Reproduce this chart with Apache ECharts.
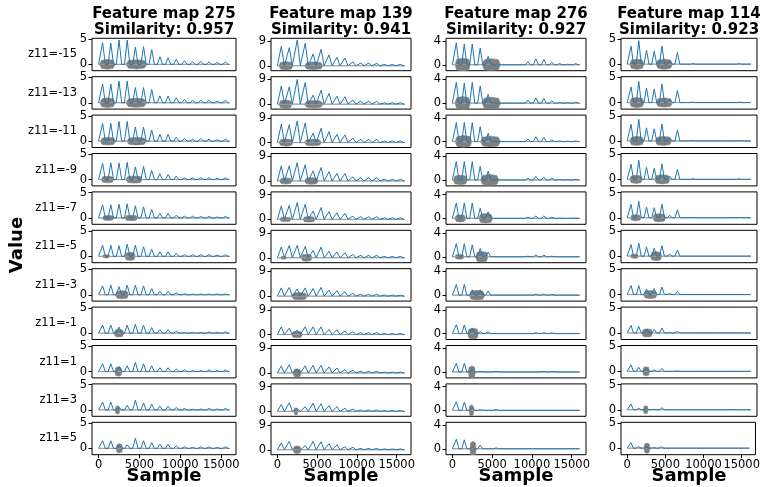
<!DOCTYPE html>
<html>
<head>
<meta charset="utf-8">
<script src="https://cdn.jsdelivr.net/npm/echarts@6/dist/echarts.min.js"></script>
<style>html,body{margin:0;padding:0;background:#fff}#c{width:763px;height:487px}</style>
</head>
<body>
<div id="c"></div>
<script>
// ---------------- data ----------------
const zValues = [-15, -13, -11, -9, -7, -5, -3, -1, 1, 3, 5];
const featureMaps = [275, 139, 276, 114];
const similarities = ['0.957', '0.941', '0.927', '0.923'];
const yTickMax = [5, 9, 4, 5];
const xTicks = [0, 5000, 10000, 15000];
const signalLength = 16000;
const peakSamples = [500, 1500, 2500, 3500, 4500, 5500, 6500, 7500, 8500, 9500, 10500, 11500, 12500, 13500, 14500, 15500];

// blue line: peak height at each peak sample, one row per z11 value
const peaks275 = [
  [4.3,4.2,4.8,4.8,3.4,3.5,2.9,1.5,1.3,1.0,0.7,0.5,0.6,0.5,0.4,0.5],
  [3.7,3.7,4.3,4.3,3.0,3.0,2.6,1.35,1.35,1.0,0.7,0.5,0.55,0.5,0.35,0.5],
  [3.5,3.5,3.9,3.9,2.8,2.8,2.2,1.35,1.35,0.8,0.55,0.4,0.55,0.4,0.3,0.4],
  [3.2,3.3,3.3,3.4,2.5,2.6,1.8,1.15,1.0,0.7,0.35,0.35,0.35,0.35,0.3,0.35],
  [2.6,2.6,2.7,2.8,2.4,2.2,1.7,0.9,0.9,0.55,0.35,0.35,0.3,0.3,0.2,0.3],
  [2.2,2.2,2.1,2.4,2.2,1.9,1.4,0.9,0.9,0.6,0.35,0.35,0.35,0.35,0.25,0.35],
  [1.75,1.9,1.6,1.9,1.9,1.75,1.2,0.7,0.7,0.4,0.2,0.15,0.15,0.15,0.15,0.15],
  [1.6,1.6,1.2,1.6,1.75,1.6,1.1,0.7,0.7,0.4,0.15,0.15,0.15,0.25,0.15,0.25],
  [1.55,1.55,1.0,1.15,1.8,1.55,1.15,0.75,0.75,0.5,0.35,0.2,0.2,0.35,0.2,0.35],
  [1.55,1.55,0.5,0.9,1.95,1.4,1.15,0.75,0.75,0.5,0.3,0.15,0.2,0.3,0.2,0.3],
  [1.5,1.5,0.5,0.7,2.0,1.5,1.15,0.8,0.8,0.5,0.3,0.2,0.3,0.3,0.2,0.3]
];
const peaks139 = [
  [7.1,6.6,9.4,8.2,4.3,6.0,4.0,3.1,2.8,1.4,1.0,1.0,0.9,0.5,0.5,0.5],
  [6.6,6.3,9.0,7.9,3.3,5.1,3.9,2.9,2.7,1.5,1.1,1.1,1.1,0.5,0.5,0.5],
  [6.7,6.5,7.9,7.1,3.4,5.2,4.0,3.0,2.8,1.6,1.2,1.2,1.2,0.6,0.6,0.6],
  [5.5,5.5,6.7,5.9,3.7,4.9,3.4,2.7,2.7,1.5,1.2,1.2,1.2,0.6,0.6,0.6],
  [4.9,5.1,6.1,5.5,3.0,4.3,2.8,2.4,2.2,1.2,1.0,1.0,1.0,0.6,0.6,0.6],
  [3.9,4.5,4.5,4.1,2.7,3.9,2.4,2.1,1.8,1.2,0.9,0.9,0.9,0.5,0.5,0.5],
  [3.0,3.2,2.6,3.0,2.8,3.2,2.2,2.0,1.6,1.0,0.7,0.7,0.7,0.4,0.4,0.4],
  [2.8,2.3,1.6,2.8,2.8,2.8,1.8,1.8,1.3,1.0,0.7,0.7,0.7,0.4,0.4,0.4],
  [2.6,3.0,1.2,2.6,2.8,2.8,2.2,1.8,1.2,1.0,0.6,0.6,0.6,0.3,0.3,0.3],
  [2.5,3.1,0.9,1.7,3.0,2.8,2.1,1.7,1.1,0.8,0.5,0.5,0.5,0.3,0.3,0.3],
  [2.5,3.1,0.9,1.5,3.1,2.9,2.2,1.8,1.1,0.9,0.5,0.5,0.5,0.3,0.3,0.3]
];
const peaks276 = [
  [3.7,3.5,3.5,2.8,1.4,0,0,0,0,0.5,1.0,0.9,0.4,0.2,0.1,0.2],
  [3.5,3.4,3.5,2.9,1.5,0,0,0,0,0.5,0.9,0.8,0.4,0.1,0.1,0.2],
  [3.2,3.2,3.2,2.5,1.4,0,0,0,0,0.4,0.8,0.7,0.3,0.1,0.05,0.1],
  [3.1,3.1,3.1,2.3,1.5,0,0,0,0,0.3,0.6,0.5,0.3,0.1,0.05,0.1],
  [2.6,2.6,2.6,1.7,1.1,0,0,0,0,0.2,0.4,0.4,0.2,0.05,0,0.05],
  [2.2,2.2,2.0,1.4,0.8,0,0,0,0,0.1,0.3,0.3,0.1,0,0,0],
  [1.8,1.8,0.9,0.9,0.7,0,0,0,0,0.05,0.2,0.2,0.15,0,0,0],
  [1.5,1.45,0.9,0.35,0.3,0,0,0,0,0,0.15,0.15,0.1,0,0,0],
  [1.45,1.45,0.5,0.1,0,0.15,0,0,0,0,0,0.1,0.1,0,0,0],
  [1.45,1.35,0.5,0.1,0,0.15,0,0,0,0,0,0,0,0,0,0],
  [1.6,1.5,0.2,0.6,0,0.15,0,0,0,0,0,0,0,0,0,0]
];
const peaks114 = [
  [3.6,4.7,2.8,2.6,3.6,0.6,2.3,0,0.1,0,0,0,0,0,0.1,0],
  [3.1,4.2,2.9,2.7,3.7,0.6,2.4,0,0.1,0,0,0,0,0,0.1,0],
  [3.3,4.3,2.6,2.4,3.4,0.6,2.2,0,0.1,0,0,0,0,0,0.1,0],
  [3.0,3.8,2.4,2.2,3.1,0.6,2.0,0,0.1,0,0,0,0,0,0.1,0],
  [2.7,3.3,2.1,2.0,2.7,0.5,1.6,0,0.05,0,0,0,0,0,0.05,0],
  [2.3,2.6,1.8,1.6,2.1,0.4,1.2,0,0,0,0,0,0,0,0,0],
  [1.8,1.8,1.1,1.2,1.5,0.2,0.6,0,0,0,0,0,0,0,0,0],
  [1.5,1.3,0.8,0.7,1.0,0.1,0.3,0,0,0,0,0,0,0,0,0],
  [1.3,0.8,0.5,0.3,0.6,0,0.1,0,0,0,0,0,0,0,0,0],
  [1.15,0.3,0.2,0.1,0.4,0,0,0,0,0,0,0,0,0,0,0],
  [1.1,0.3,0.2,0.1,0.3,0,0,0,0,0,0,0,0,0,0,0]
];

// gray waveform envelopes: [startSample, endSample, amplitude] per burst
const blobs275 = [
  [[100,2050,0.95],[3300,5950,0.9]],
  [[150,2050,0.95],[3300,5900,0.9]],
  [[200,2100,0.75],[3400,5900,0.75]],
  [[300,1900,0.65],[3300,5400,0.7]],
  [[450,1900,0.5],[3200,4800,0.55]],
  [[450,1400,0.3],[3200,4500,0.8]],
  [[2050,3700,0.8]],
  [[1900,3100,0.75]],
  [[1980,2870,0.9]],
  [[2050,2600,0.8]],
  [[2150,2950,0.9]]
];
const blobs139 = [
  [[180,1980,1.5],[3380,5780,1.4]],
  [[180,1860,1.5],[3380,5780,1.3]],
  [[180,1980,1.3],[3380,5580,1.2]],
  [[260,1860,1.1],[3380,5180,1.2]],
  [[260,1780,0.8],[3180,4780,1.0]],
  [[380,1180,0.5],[2980,4380,1.3]],
  [[1780,3780,1.3]],
  [[1780,3180,1.2]],
  [[1980,2980,1.5]],
  [[2100,2580,1.3]],
  [[1980,2980,1.4]]
];
const blobs276 = [
  [[300,2300,1.1],[3700,6100,1.0]],
  [[300,2300,1.1],[3700,6100,1.0]],
  [[300,2500,1.0],[3500,6100,0.9]],
  [[100,1900,0.8],[3500,5900,0.9]],
  [[300,1700,0.6],[3300,5100,0.8]],
  [[300,1500,0.4],[2900,4500,0.9]],
  [[2100,4100,0.8]],
  [[1900,3300,0.9]],
  [[2000,2900,1.0]],
  [[2100,2700,0.9]],
  [[2200,3000,1.2]]
];
const blobs114 = [
  [[300,2200,1.0],[3700,5900,1.0]],
  [[300,2200,1.0],[3700,5900,0.9]],
  [[300,2200,0.9],[3600,5800,0.9]],
  [[300,2000,0.8],[3500,5600,0.9]],
  [[400,1800,0.6],[3300,5000,0.8]],
  [[400,1500,0.4],[3000,4500,0.9]],
  [[2100,3900,0.8]],
  [[1900,3300,0.8]],
  [[2000,2900,0.9]],
  [[2100,2700,0.8]],
  [[2200,3000,1.0]]
];

const peakSets = [peaks275, peaks139, peaks276, peaks114];
const blobSets = [blobs275, blobs139, blobs276, blobs114];

// ---------------- layout / style ----------------
const gridLeft = [92, 271, 446, 621];
const gridWidth = [144, 140, 140, 136];
const gridTop0 = 38.3, rowPitch = 38.4, gridH = 32.4;
const yRange = [[-1.25, 5.15], [-1.8, 10], [-1.0, 4.45], [-1.3, 5.15]];
const peakHalfWidth = [330, 380, 320, 320];
const FONT = 'DejaVu Sans';

function bluePath(h, hw) {
  const d = [[0, 0]];
  peakSamples.forEach((c, k) => { d.push([c - hw, 0], [c, h[k]], [c + hw, 0]); });
  d.push([signalLength, 0]);
  return d;
}
function blobPath(blobs, sign) {
  const d = [[0, 0]];
  blobs.forEach(([s, e, a]) => {
    const w = e - s;
    d.push([s, 0], [s + 0.15 * w, 0.85 * a * sign], [(s + e) / 2, a * sign], [e - 0.15 * w, 0.85 * a * sign], [e, 0]);
  });
  d.push([signalLength, 0]);
  return d;
}

const grids = [], xAxes = [], yAxes = [], series = [], graphics = [];
let idx = 0;
for (let c = 0; c < 4; c++) {
  for (let r = 0; r < zValues.length; r++) {
    const last = r === zValues.length - 1;
    grids.push({ left: gridLeft[c], top: gridTop0 + r * rowPitch, width: gridWidth[c], height: gridH,
      show: true, borderColor: '#000', borderWidth: 1, backgroundColor: 'transparent' });
    xAxes.push({ gridIndex: idx, type: 'value', min: -800, max: 16800, position: 'bottom',
      axisLine: { show: false, onZero: false }, splitLine: { show: false },
      axisTick: { show: last, length: 3.5, customValues: xTicks, lineStyle: { color: '#000' } },
      axisLabel: { show: last, customValues: xTicks, hideOverlap: false, formatter: v => String(v),
        fontSize: 11.5, color: '#000', fontFamily: FONT, margin: 4 } });
    yAxes.push({ gridIndex: idx, type: 'value', min: yRange[c][0], max: yRange[c][1], position: 'left',
      axisLine: { show: false, onZero: false }, splitLine: { show: false },
      axisTick: { show: true, length: 3.5, customValues: [0, yTickMax[c]], lineStyle: { color: '#000' } },
      axisLabel: { customValues: [0, yTickMax[c]], hideOverlap: false, formatter: v => String(v),
        fontSize: 11.5, color: '#000', fontFamily: FONT, margin: 5 } });
    [1, -1].forEach(sg => {
      series.push({ type: 'line', xAxisIndex: idx, yAxisIndex: idx, data: blobPath(blobSets[c][r], sg),
        symbol: 'none', smooth: 0.35, smoothMonotone: 'x', silent: true, z: 1,
        lineStyle: { width: 0.6, color: '#7f7f7f' }, areaStyle: { color: '#7f7f7f', opacity: 1 } });
    });
    series.push({ type: 'line', xAxisIndex: idx, yAxisIndex: idx, data: bluePath(peakSets[c][r], peakHalfWidth[c]),
      symbol: 'none', silent: true, z: 2, lineStyle: { width: 1, color: '#1f77b4' } });
    idx++;
  }
  const cx = gridLeft[c] + gridWidth[c] / 2;
  graphics.push({ type: 'text', x: cx, y: 14, style: { text: 'Feature map ' + featureMaps[c], font: 'bold 15px "DejaVu Sans"', fill: '#000', align: 'center', verticalAlign: 'middle', textAlign: 'center', textVerticalAlign: 'middle' } });
  graphics.push({ type: 'text', x: cx, y: 30.5, style: { text: 'Similarity: ' + similarities[c], font: 'bold 15px "DejaVu Sans"', fill: '#000', align: 'center', verticalAlign: 'middle', textAlign: 'center', textVerticalAlign: 'middle' } });
  graphics.push({ type: 'text', x: cx, y: 476, style: { text: 'Sample', font: 'bold 18px "DejaVu Sans"', fill: '#000', align: 'center', verticalAlign: 'middle', textAlign: 'center', textVerticalAlign: 'middle' } });
}
zValues.forEach((z, r) => {
  graphics.push({ type: 'text', x: 77, y: gridTop0 + r * rowPitch + gridH / 2, style: { text: 'z11=' + z, font: '11.5px "DejaVu Sans"', fill: '#000', align: 'right', verticalAlign: 'middle', textAlign: 'right', textVerticalAlign: 'middle' } });
});
graphics.push({ type: 'text', x: 17, y: 245, rotation: Math.PI / 2, style: { text: 'Value', font: 'bold 18px "DejaVu Sans"', fill: '#000', align: 'center', verticalAlign: 'middle', textAlign: 'center', textVerticalAlign: 'middle' } });

const chart = echarts.init(document.getElementById('c'), null, { renderer: 'canvas' });
chart.setOption({ animation: false, backgroundColor: '#fff', grid: grids, xAxis: xAxes, yAxis: yAxes, series: series, graphic: graphics });
</script>
</body>
</html>
